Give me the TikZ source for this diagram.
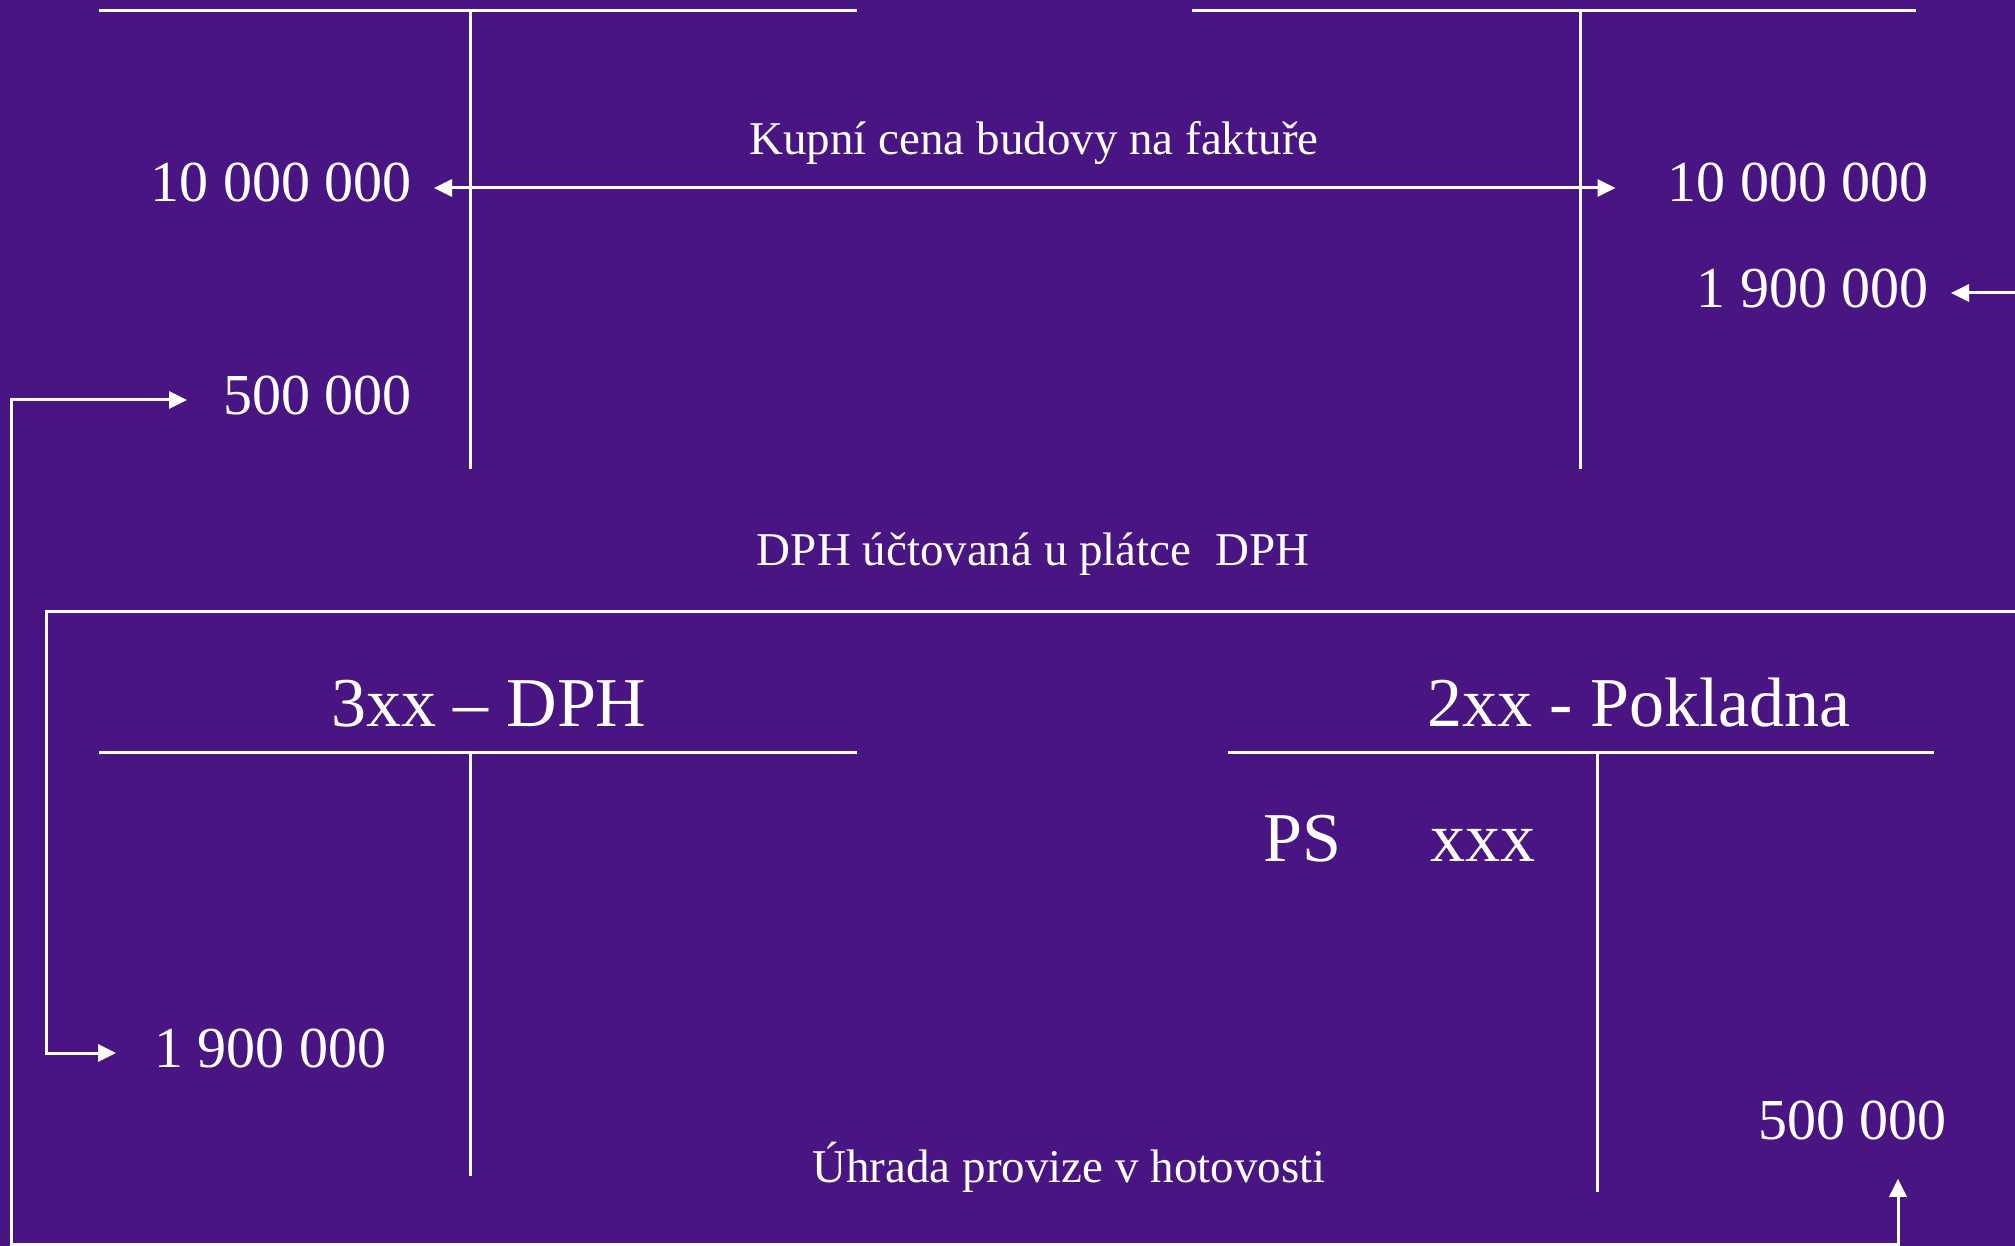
\documentclass[tikz,border=0pt]{standalone}
\usepackage{fontspec}
\setmainfont{Liberation Serif}
\usetikzlibrary{arrows.meta,calc}
\definecolor{bgpurple}{RGB}{72,21,130}
\tikzset{
  tline/.style={draw=white, line width=3pt},
  conn/.style={draw=white, line width=3pt, -{Triangle[length=18pt,width=17pt]}},
  dblconn/.style={draw=white, line width=3pt, {Triangle[length=18pt,width=17pt]}-{Triangle[length=18pt,width=17pt]}},
  amount/.style={text=white, inner sep=0pt, font=\fontsize{58}{70}\selectfont},
  acctitle/.style={text=white, inner sep=0pt, font=\fontsize{70}{82}\selectfont},
  caption/.style={text=white, inner sep=0pt, font=\fontsize{47}{56}\selectfont},
}
\begin{document}
\begin{tikzpicture}[x=1pt,y=-1pt]
\fill[bgpurple] (0,0) rectangle (2015,1246);
\useasboundingbox (0,0) rectangle (2015,1246);

% T accounts
\draw[tline] (99,11) -- (857,11);
\draw[tline] (470,11) -- (470,469);
\draw[tline] (1192,11) -- (1916,11);
\draw[tline] (1580,11) -- (1580,469);
\draw[tline] (99,752) -- (857,752);
\draw[tline] (470,752) -- (470,1176);
\draw[tline] (1228,752) -- (1934,752);
\draw[tline] (1597,752) -- (1597,1192);

% amounts
\node[amount, anchor=base east] (lt10) at (412,202) {10 000 000};
\node[amount, anchor=base east] (lt5) at (412,414) {500 000};
\node[amount, anchor=base east] (rt10) at (1929,202) {10 000 000};
\node[amount, anchor=base east] (rt19) at (1929,308) {1 900 000};
\node[amount, anchor=base west] (bl19) at (154,1067) {1 900 000};
\node[amount, anchor=base east] (br5) at (1947,1139) {500 000};

% titles
\node[acctitle, anchor=base] (t3) at (489,726) {3xx – DPH};
\node[acctitle, anchor=base] (t2) at (1639,726) {2xx - Pokladna};
\node[acctitle, anchor=base west] (ps) at (1263,861) {PS};
\node[acctitle, anchor=base west] (xxx) at (1430,861) {xxx};

% captions
\node[caption, anchor=base] (c1) at (1034,155) {Kupní cena budovy na faktuře};
\node[caption, anchor=base] (c2) at (1033,565) {DPH účtovaná u plátce~~DPH};
\node[caption, anchor=base] (c3) at (1069,1182) {Úhrada provize v hotovosti};

% coordinates
\coordinate (edgeR) at (2016,0);
\coordinate (ka) at ($(lt10.east)+(22,5)$);
\coordinate (kb) at ($(rt10.west)+(-52,5)$);
\coordinate (rt19tip) at ($(rt19.east)+(22,4)$);
\coordinate (bl19tip) at ($(bl19.west)+(-38,5)$);
\coordinate (dphR) at (2016,611);
\coordinate (dphL) at (46,611);
\coordinate (brtip) at ($(br5.south east)+(-49,39)$);
\coordinate (botL) at (11,1244);
\coordinate (lt5tip) at ($(lt5.west)+(-36,5)$);

% connectors
\draw[dblconn] (ka) -- (kb);
\draw[conn] (rt19tip -| edgeR) -- (rt19tip);
\draw[conn] (dphR) -- (dphL) |- (bl19tip);
\draw[dblconn] (brtip) |- (botL) |- (lt5tip);
\end{tikzpicture}
\end{document}
